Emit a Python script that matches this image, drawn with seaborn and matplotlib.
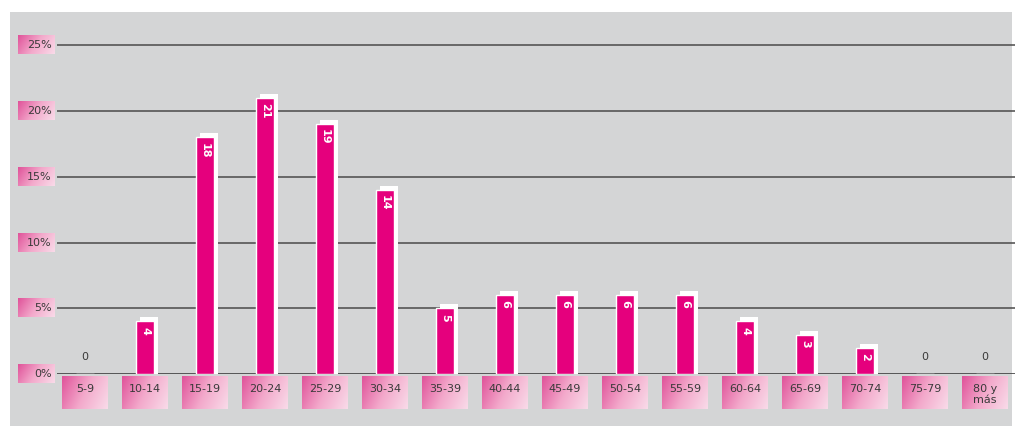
import numpy as np
import matplotlib
matplotlib.use("Agg")
import matplotlib.pyplot as plt
from matplotlib.patches import Rectangle
import pandas as pd
import seaborn as sns

grupos = ["5-9", "10-14", "15-19", "20-24", "25-29", "30-34", "35-39", "40-44",
          "45-49", "50-54", "55-59", "60-64", "65-69", "70-74", "75-79", "80 y\nmás"]
porcentajes = [0, 4, 18, 21, 19, 14, 5, 6, 6, 6, 6, 4, 3, 2, 0, 0]
marcas_y = [0, 5, 10, 15, 20, 25]
etiquetas_y = ["0%", "5%", "10%", "15%", "20%", "25%"]

df = pd.DataFrame({"grupo": grupos, "pct": porcentajes})

sns.set_theme(style="white")
plt.rcParams["font.family"] = ["DejaVu Sans"]

rosa = "#e5007d"
gris = "#d4d5d6"
texto = "#3a3a3a"

fig = plt.figure(figsize=(10.22, 4.26), dpi=100)
fig.patch.set_facecolor("white")
fig.patches.append(Rectangle((10 / 1022, 0), 1002 / 1022, 414 / 426,
                             transform=fig.transFigure, facecolor=gris,
                             edgecolor="none", zorder=-10))

ymax = 27
ax = fig.add_axes([57 / 1022, 52 / 426, (1015 - 57) / 1022, (374 - 19) / 426])
ax.set_facecolor("none")
ax.set_zorder(1)

sns.barplot(data=df, x="grupo", y="pct", color=rosa, width=0.3,
            saturation=1, ax=ax, zorder=3)

# sombra blanca detras de cada barra
for p in list(ax.patches):
    h = p.get_height()
    if h <= 0:
        continue
    ax.add_patch(Rectangle((p.get_x() + 0.06, 0), p.get_width(), h + 0.3,
                           facecolor="white", edgecolor="none", zorder=2))

# rejilla
for m in marcas_y:
    ax.axhline(m, color="#4a4a4a" if m else "#333333", lw=1.1, zorder=1)

# etiquetas de valores
for i, v in enumerate(porcentajes):
    if v > 0:
        ax.text(i, v - 0.4, str(v), rotation=270, ha="center", va="top",
                color="white", fontsize=8, fontweight="bold", zorder=4)
    else:
        ax.text(i, 1.3, "0", ha="center", va="center", color=texto,
                fontsize=8, zorder=4)

ax.set_xlim(-0.467, 15.5)
ax.set_ylim(0, ymax)
ax.set_xticks([])
ax.set_yticks([])
ax.set_xlabel("")
ax.set_ylabel("")
sns.despine(ax=ax, left=True, bottom=True)

# degradado rosa para las cajas de etiquetas
gx = np.linspace(0, 1, 64)
gy = np.linspace(0, 1, 32)
grad = (gx[None, :] * 0.75 + gy[:, None] * 0.25)
cmap = matplotlib.colors.LinearSegmentedColormap.from_list(
    "rosa", ["#e0539a", "#f3a9cb", "#f9dbe9"])

for i, g in enumerate(grupos):
    ax.imshow(grad, extent=(i - 0.38, i + 0.38, -2.7, -0.25), cmap=cmap,
              aspect="auto", clip_on=False, zorder=2, origin="upper")
    ax.text(i, -0.75, g, ha="center", va="top", color=texto, fontsize=8,
            linespacing=1.1, clip_on=False)

x0 = -0.467 - 39 / 60
x1 = -0.467 - 2 / 60
for m, et in zip(marcas_y, etiquetas_y):
    ax.imshow(grad, extent=(x0, x1, m - 0.7, m + 0.7), cmap=cmap,
              aspect="auto", clip_on=False, zorder=2, origin="upper")
    ax.text(x1 - 0.06, m, et, ha="right", va="center", color=texto,
            fontsize=8, clip_on=False)

ax.set_xlim(-0.467, 15.5)
ax.set_ylim(0, ymax)

fig.savefig("out.png", dpi=100, facecolor="white")
